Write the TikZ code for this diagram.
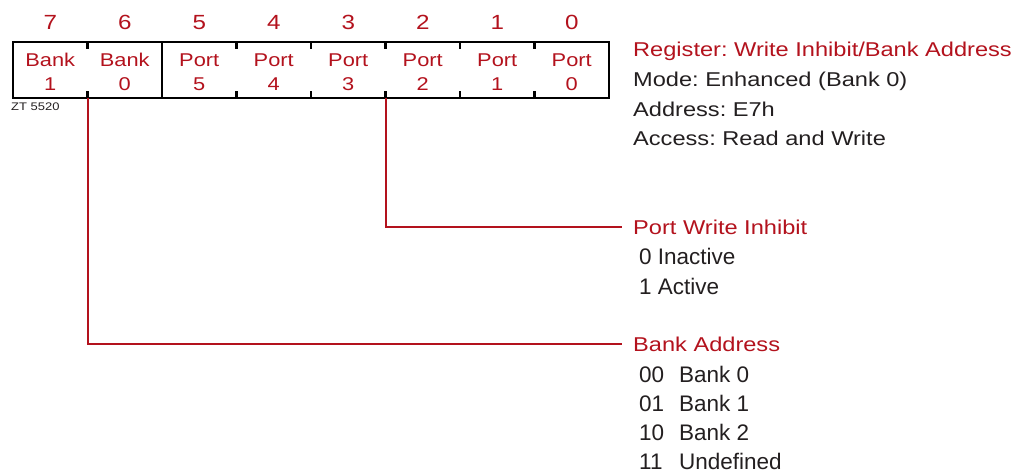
\documentclass[tikz,border=0pt]{standalone}
\usepackage{fontspec}
\setmainfont{Liberation Sans}[FakeStretch=1.18]
\newfontfamily\listfont{Liberation Sans}
\frenchspacing
\definecolor{regred}{HTML}{B3121D}
\definecolor{ink}{HTML}{231F20}
\tikzset{
  cell/.style={minimum width=74.5pt, minimum height=56pt, inner sep=0pt, outer sep=0pt},
  bitnum/.style={text=regred, inner sep=0pt, anchor=base, font=\fontsize{20.5}{25}\selectfont},
  celltext/.style={text=regred, inner sep=0pt, anchor=base, font=\fontsize{18.5}{23}\selectfont},
  boxline/.style={draw=black, line width=2.6pt},
  tick/.style={draw=black, line width=2.6pt},
  conn/.style={draw=regred, line width=2pt},
  heading/.style={text=regred, inner sep=0pt, anchor=base west, font=\fontsize{20}{24}\selectfont},
  info/.style={text=ink, inner sep=0pt, anchor=base west, font=\fontsize{20}{24}\selectfont},
  item/.style={text=ink, inner sep=0pt, anchor=base west, font=\listfont\fontsize{22.5}{26}\selectfont},
  tag/.style={text=ink, inner sep=0pt, anchor=base west, font=\fontsize{11}{13}\selectfont},
}
\begin{document}
\begin{tikzpicture}[x=1pt, y=-1pt]
\useasboundingbox (0,0) rectangle (1020,473);

% register cells, bit numbers and field names
\foreach \b/\fa/\fb [count=\i from 0] in
  {7/Bank/1, 6/Bank/0, 5/Port/5, 4/Port/4, 3/Port/3, 2/Port/2, 1/Port/1, 0/Port/0} {
  \node[cell] (c\b) at ({13+74.5*(\i+0.5)}, 70) {};
  \node[bitnum] (n\b) at ({13+74.5*(\i+0.5)}, 29.5) {\b};
  \node[celltext] (fa\b) at ({13+74.5*(\i+0.5)}, 67) {\fa};
  \node[celltext] (fb\b) at ({13+74.5*(\i+0.5)}, 91) {\fb};
}

% outline, field divider and bit ticks
\draw[boxline] (c7.north west) rectangle (c0.south east);
\draw[boxline] (c6.north east) -- (c6.south east);
\foreach \b in {7,5,4,3,2,1} {
  \draw[tick] (c\b.north east) -- ++(0,7);
  \draw[tick] (c\b.south east) -- ++(0,-7);
}

\node[tag] (zt) at (11,111) {ZT 5520};

% register description
\node[heading] (reg) at (633,57) {Register: Write Inhibit/Bank Address};
\node[info] (mode) at (633,87) {Mode: Enhanced (Bank 0)};
\node[info] (addr) at (633,117) {Address: E7h};
\node[info] (acc) at (633,146) {Access: Read and Write};

% port write inhibit field
\node[heading] (pwi) at (633,234) {Port Write Inhibit};
\node[item] (pwi0) at (639,264) {0 Inactive};
\node[item] (pwi1) at (639,294) {1 Active};

% bank address field
\node[heading] (bank) at (633,351) {Bank Address};
\node[item] (bk0) at (639,382) {\makebox[40pt][l]{00}Bank 0};
\node[item] (bk1) at (639,411) {\makebox[40pt][l]{01}Bank 1};
\node[item] (bk2) at (639,440) {\makebox[40pt][l]{10}Bank 2};
\node[item] (bk3) at (639,469) {\makebox[40pt][l]{11}Undefined};

% field connectors
\draw[conn] (c3.south east) |- ([xshift=-11pt]pwi.west);
\draw[conn] (c7.south east) |- ([xshift=-11pt]bank.west);
\end{tikzpicture}
\end{document}
